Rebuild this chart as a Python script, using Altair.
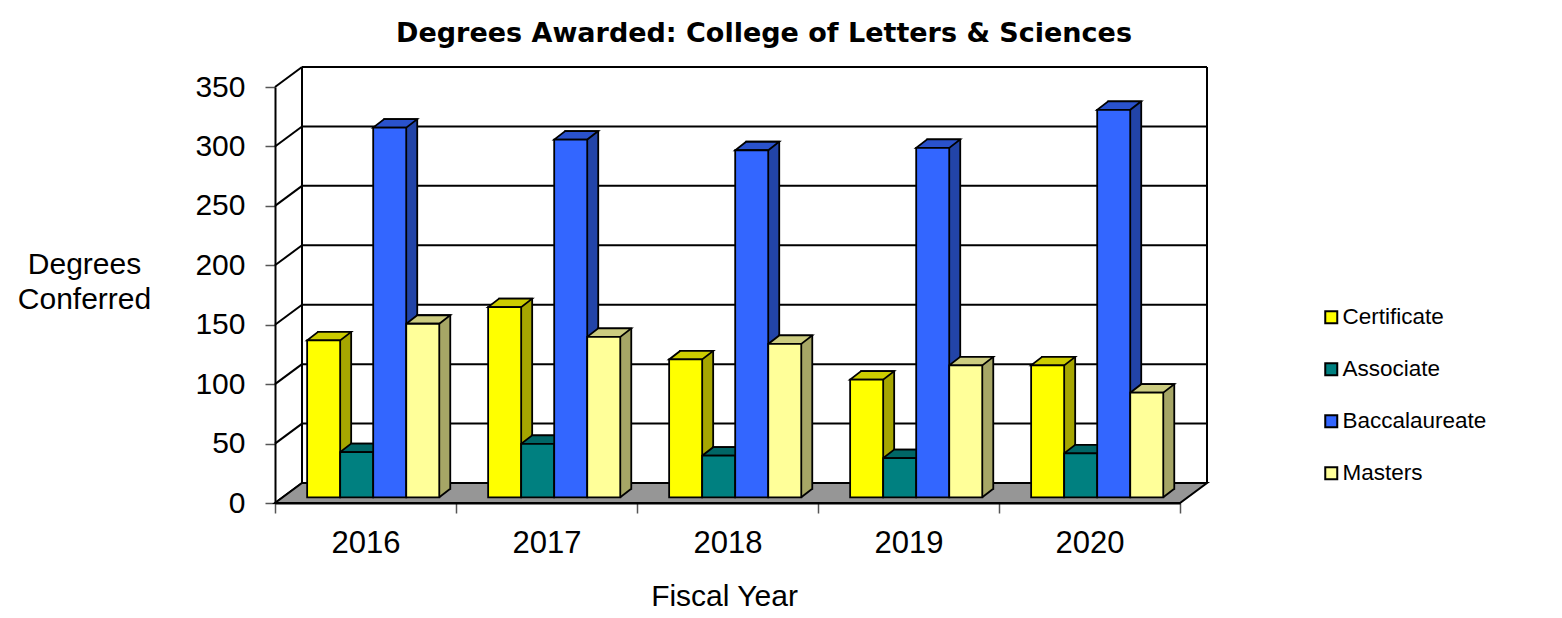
import altair as alt
import pandas as pd

# ---- data ----
years = ["2016", "2017", "2018", "2019", "2020"]
series = ["Certificate", "Associate", "Baccalaureate", "Masters"]
certificate = [132, 160, 116, 99, 111]
associate = [38, 45, 35, 33, 37]
baccalaureate = [311, 301, 292, 294, 326]
masters = [146, 135, 129, 111, 88]
y_ticks = [0, 50, 100, 150, 200, 250, 300, 350]

# ---- styles ----
FONT = "Liberation Sans"
TITLE_FONT = "DejaVu Sans"
front_colors = ["#FFFF00", "#008080", "#3366FF", "#FFFF99"]
side_colors = ["#A6A600", "#005C5C", "#2244A8", "#A6A666"]
top_colors = ["#CCCC00", "#006666", "#2A52CC", "#CCCC80"]

rows = []
for s, vals in zip(series, [certificate, associate, baccalaureate, masters]):
    for yr, v in zip(years, vals):
        rows.append({"year": yr, "series": s, "value": v})
df = pd.DataFrame(rows)
grid_df = pd.DataFrame({"v": y_ticks})
one_df = pd.DataFrame({"k": [0]})

W, H = 905, 416
WALL_DX, WALL_DY = 27, 20
BAR_DX, BAR_DY = 11, 8.5
STEP = W / len(years)
GROUP = STEP * 0.73
GROUP_START = (STEP - GROUP) / 2 + 7.7
SHIFT_Y = 5.7
STROKE = 1.8
bw = GROUP / 4
hw = bw / 2

x_scale = alt.Scale(paddingInner=0, paddingOuter=0)
y_scale = alt.Scale(domain=[0, 350], nice=False, zero=True)

x_axis = alt.Axis(title="Fiscal Year", titleFont=FONT, titleFontSize=30,
                  titleFontWeight="normal", titleColor="black",
                  titleX=449, titleY=102, titleBaseline="alphabetic", titleAlign="center",
                  labelFont=FONT, labelFontSize=31, labelColor="black", labelAngle=0,
                  labelPadding=15, tickSize=10, tickBand="extent", tickColor="#555555",
                  tickWidth=1.5, domainColor="black", domainWidth=2, grid=False)
y_axis = alt.Axis(values=y_ticks, title=["Degrees", "Conferred"], titleAngle=0,
                  titleAlign="center", titleX=-191, titleY=186,
                  titleBaseline="alphabetic", titleFont=FONT, titleFontSize=30,
                  titleFontWeight="normal", titleColor="black", titleLineHeight=35,
                  labelFont=FONT, labelFontSize=30, labelColor="black",
                  labelPadding=20, tickSize=10, tickColor="#555555", tickWidth=1.5,
                  domainColor="black", domainWidth=2, grid=False)


def xe():
    return alt.X("year:N", sort=years, scale=x_scale, axis=x_axis)


def ye(field="value:Q"):
    return alt.Y(field, scale=y_scale, axis=y_axis)


def y0():
    return alt.Y(datum=0, type="quantitative", scale=y_scale, axis=y_axis)


def xoff(start):
    return alt.XOffset("series:N", sort=series,
                       scale=alt.Scale(type="band", range=[start, start + GROUP],
                                       paddingInner=0, paddingOuter=0))


def col(rng, legend=None):
    return alt.Color("series:N", sort=series,
                     scale=alt.Scale(domain=series, range=rng), legend=legend)


# back wall gridlines
grid = alt.Chart(grid_df).mark_rule(color="black", strokeWidth=2,
                                    yOffset=-WALL_DY, y2Offset=-WALL_DY).encode(
    x=alt.value(WALL_DX), x2=alt.value(W + WALL_DX), y=ye("v:Q"))

# left wall diagonals
diag = alt.Chart(grid_df).mark_rule(color="black", strokeWidth=2, y2Offset=-WALL_DY).encode(
    x=alt.value(0), x2=alt.value(WALL_DX), y=ye("v:Q"), y2=alt.Y2("v:Q"))

# back wall verticals
wall_l = alt.Chart(one_df).mark_rule(color="black", strokeWidth=2,
                                     yOffset=-WALL_DY, y2Offset=-WALL_DY).encode(
    x=alt.value(WALL_DX), y=y0(), y2=alt.Y2(datum=350))
wall_r = alt.Chart(one_df).mark_rule(color="black", strokeWidth=2,
                                     yOffset=-WALL_DY, y2Offset=-WALL_DY).encode(
    x=alt.value(W + WALL_DX), y=y0(), y2=alt.Y2(datum=350))

# floor
floor_path = f"M0,0L{W},0L{W + WALL_DX},{-WALL_DY}L{WALL_DX},{-WALL_DY}Z"
floor = alt.Chart(one_df).mark_point(shape=floor_path, size=4, filled=True, fill="#969696",
                                     stroke="black", strokeWidth=2, opacity=1).encode(
    x=alt.value(0), y=alt.value(H))

# bar side faces
sides = alt.Chart(df).mark_bar(stroke="black", strokeWidth=STROKE, opacity=1,
                               yOffset=-(SHIFT_Y + BAR_DY), y2Offset=-(SHIFT_Y + BAR_DY)).encode(
    x=xe(), xOffset=xoff(GROUP_START + BAR_DX), y=ye(), color=col(side_colors))

# bar top faces (point sits at the bar's centre)
top_path = (f"M{-hw:.2f},0L{hw:.2f},0L{hw + BAR_DX:.2f},{-BAR_DY}"
            f"L{-hw + BAR_DX:.2f},{-BAR_DY}Z")
tops = alt.Chart(df).mark_point(shape=top_path, size=4, filled=True, opacity=1,
                                stroke="black", strokeWidth=STROKE, yOffset=-SHIFT_Y).encode(
    x=xe(), xOffset=xoff(GROUP_START), y=ye(), color=col(top_colors))

# bottom of side faces
bot_path = (f"M{hw:.2f},0L{hw + BAR_DX:.2f},{-BAR_DY}L{hw + BAR_DX - 0.8:.2f},{-BAR_DY - 0.9}"
            f"L{hw:.2f},{-BAR_DY - 0.9}Z")
bots = alt.Chart(df).mark_point(shape=bot_path, size=4, filled=True, opacity=1,
                                strokeWidth=0, yOffset=-SHIFT_Y).encode(
    x=xe(), xOffset=xoff(GROUP_START), y=y0(), color=col(side_colors))
edge_path = f"M{hw:.2f},0L{hw + BAR_DX:.2f},{-BAR_DY}"
edges = alt.Chart(df).mark_point(shape=edge_path, size=4, filled=False, opacity=1,
                                 color="black", strokeWidth=STROKE, yOffset=-SHIFT_Y).encode(
    x=xe(), xOffset=xoff(GROUP_START), y=y0())

# bar front faces (with legend)
fronts = alt.Chart(df).mark_bar(stroke="black", strokeWidth=STROKE, opacity=1,
                                yOffset=-SHIFT_Y, y2Offset=-SHIFT_Y).encode(
    x=xe(), xOffset=xoff(GROUP_START), y=ye(),
    color=col(front_colors, alt.Legend(title=None, orient="none", legendX=1045, legendY=219,
                                       symbolType="square", symbolSize=144,
                                       symbolStrokeColor="black", symbolStrokeWidth=2,
                                       symbolOpacity=1, labelFont=FONT, labelFontSize=22.5,
                                       labelColor="black", labelOffset=0, rowPadding=29,
                                       padding=0)),
)

chart = alt.layer(grid, diag, wall_l, wall_r, floor, sides, tops, bots, edges, fronts).resolve_scale(
    color="independent", xOffset="independent"
).properties(
    width=W, height=H,
    title=alt.TitleParams("Degrees Awarded: College of Letters & Sciences", font=TITLE_FONT,
                          fontSize=27, fontWeight="bold", color="black", anchor="middle",
                          frame="group", dx=36.5, dy=3, baseline="alphabetic", offset=0),
    padding={"left": 267, "top": 79, "right": 374, "bottom": 107},
    autosize=alt.AutoSizeParams(type="none"),
).configure_view(stroke=None)

chart.save("out.html", embed_options={"renderer": "svg", "actions": False})
